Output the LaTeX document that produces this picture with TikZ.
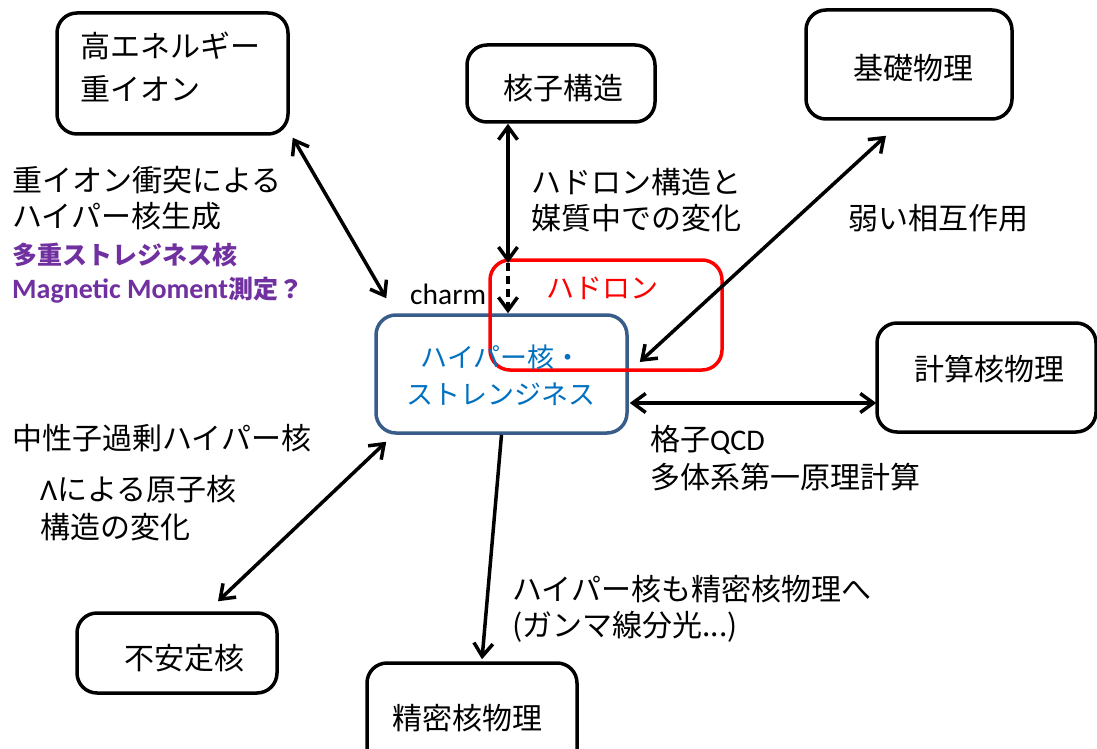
\documentclass[tikz,border=0pt]{standalone}
\usepackage{fontspec}
\setmainfont{Noto Sans CJK JP}
\newfontfamily\lat{Carlito}
\usetikzlibrary{arrows.meta}
\definecolor{hblue}{HTML}{0070C0}
\definecolor{hedge}{HTML}{385D8A}
\definecolor{hpurple}{HTML}{7030A0}
\begin{document}
\begin{tikzpicture}[x=1pt,y=-1pt,
  box/.style={draw, line width=3.5pt, rounded corners=20pt, inner sep=0pt},
  txt/.style={inner sep=0pt, anchor=west, font=\fontsize{30}{36}\selectfont},
  ctxt/.style={inner sep=0pt, font=\fontsize{30}{36}\selectfont},
  ptxt/.style={inner sep=0pt, anchor=west, text=hpurple, font=\fontsize{25}{30}\selectfont\bfseries},
  tipb/.tip={Straight Barb[length=13pt,width=19pt]},
  dbl/.style={line width=3.5pt, tipb-tipb},
  one/.style={line width=3.5pt, -tipb}]
\clip (0,0) rectangle (1097,749);
\fill[white] (0,0) rectangle (1097,749);

% boxes
\node[box, minimum width=231pt, minimum height=121pt] (heavy) at (172.5,73.5) {};
\node[box, minimum width=188pt, minimum height=77pt] (nucleon) at (561,83.5) {};
\node[box, minimum width=206pt, minimum height=109pt] (basic) at (909,64.5) {};
\node[box, minimum width=219pt, minimum height=109pt] (comp) at (986.5,377.5) {};
\node[box, draw=hedge, minimum width=251pt, minimum height=118pt] (hyper) at (501.5,374) {};
\node[box, draw=red, minimum width=232pt, minimum height=110pt] (hadron) at (606,315) {};
\node[box, minimum width=200pt, minimum height=80pt] (unstable) at (177,653) {};
\node[box, minimum width=210pt, minimum height=110pt] (precise) at (472,718) {};

% box texts
\node[txt, align=left, font=\fontsize{30}{43}\selectfont] (heavyT) at (80,66.5) {高エネルギー\\重イオン};
\node[ctxt] (nucleonT) at (563,88) {核子構造};
\node[ctxt] (basicT) at (913,68) {基礎物理};
\node[ctxt] (compT) at (989,369) {計算核物理};
\node[ctxt, text=hblue, align=center, font=\fontsize{27}{37}\selectfont] (hyperT) at (501,375) {ハイパー核・\\ストレンジネス};
\node[ctxt, text=red, font=\fontsize{28}{34}\selectfont] (hadronT) at (602,288) {ハドロン};
\node[ctxt] (unstableT) at (184,658) {不安定核};
\node[ctxt] (preciseT) at (467,718) {精密核物理};

% labels
\node[inner sep=0pt, anchor=base west, font=\lat\fontsize{29.5}{34}\selectfont] (charm) at (410,304) {charm};
\node[txt] (l1) at (12,180) {重イオン衝突による};
\node[txt] (l2) at (12,216) {ハイパー核生成};
\node[ptxt] (l3) at (12,255) {多重ストレジネス核};
\node[ptxt] (l4) at (12,290) {{\lat\fontsize{28}{30}\selectfont\bfseries Magnetic Moment}測定？};
\node[txt] (m1) at (531,182) {ハドロン構造と};
\node[txt] (m2) at (531,218) {媒質中での変化};
\node[txt] (weak) at (848,218) {弱い相互作用};
\node[txt] (q1) at (650,440) {格子{\lat QCD}};
\node[txt] (q2) at (650,477) {多体系第一原理計算};
\node[txt] (n1) at (12,438) {中性子過剰ハイパー核};
\node[txt] (a1) at (40,489) {{\lat Λ}による原子核};
\node[txt] (a2) at (40,527) {構造の変化};
\node[txt] (g1) at (512,589) {ハイパー核も精密核物理へ};
\node[txt] (g2) at (512,627) {(ガンマ線分光...)};

% connectors
\draw[dbl] ([shift={(3,2)}]heavy.south east) -- ([shift={(12,-15)}]hyper.north west);
\coordinate (mid) at (508,263);
\draw[dbl] (mid |- nucleon.south) -- (mid);
\draw[one, dash pattern=on 8pt off 5pt] (mid) -- (mid |- hyper.north);
\draw[dbl] ([shift={(-23,15)}]basic.south) -- ([shift={(11,-12)}]hyper.east);
\draw[dbl] ([shift={(1,29)}]hyper.east) -- ([shift={(1,29)}]hyper.east -| comp.west);
\draw[one] (hyper.south) -- ([shift={(10,-2)}]precise.north);
\draw[dbl] ([shift={(41,-10)}]unstable.north) -- ([shift={(12,7)}]hyper.south west);
\end{tikzpicture}
\end{document}
